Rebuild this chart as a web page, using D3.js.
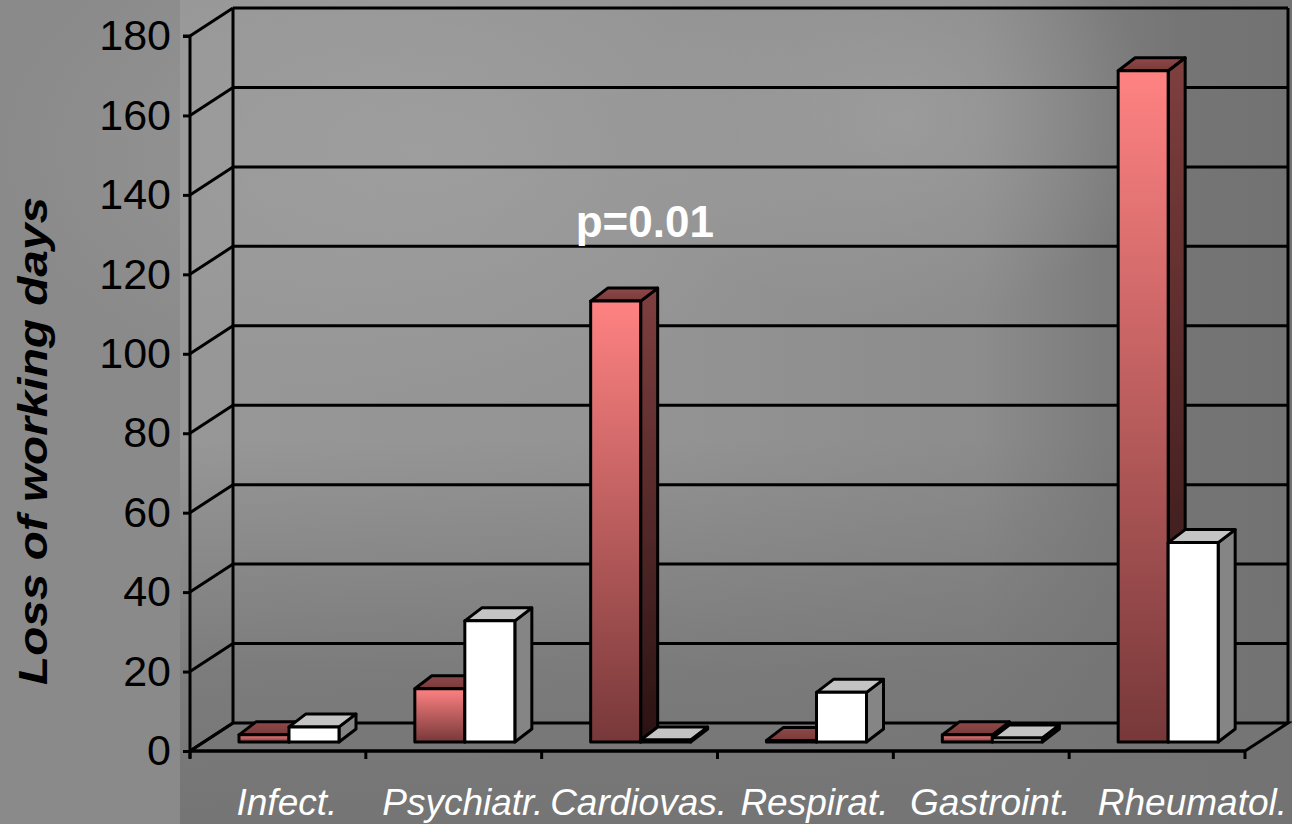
<!DOCTYPE html>
<html>
<head>
<meta charset="utf-8">
<script src="https://cdn.jsdelivr.net/npm/d3@7/dist/d3.min.js"></script>
<style>
  html, body { margin: 0; padding: 0; background: #898989; }
  svg { display: block; }
</style>
</head>
<body>
<svg id="chart" width="1292" height="824"></svg>
<script>
// ---- data ----
const categories = ["Infect.", "Psychiatr.", "Cardiovas.", "Respirat.", "Gastroint.", "Rheumatol."];
const seriesA = [1.8, 13.4, 111, 0.4, 1.8, 169];   // red bars
const seriesB = [3.8, 30.5, 0.5, 12.5, 1.0, 50.2]; // white bars
const yTicks = [0, 20, 40, 60, 80, 100, 120, 140, 160, 180];
const yTitle = "Loss of working days";
const annotation = "p=0.01";

// ---- layout ----
const W = 1292, H = 824;
const svg = d3.select("#chart");
const font = "'Liberation Sans', Arial, sans-serif";

const x = d3.scaleBand().domain(categories).range([190, 1245]).padding(0);
const y = d3.scaleLinear().domain([0, 180]).range([751, 36]);
const inner = d3.scaleBand().domain(["a", "b"]).range([35, 135]).padding(0);
const wall = { dx: 43, dy: -28 };     // depth of the floor / walls
const plane = { dx: 14, dy: -9 };     // offset of bar front faces
const bd = { dx: 17, dy: -13 };       // depth of each bar

// ---- background ----
const defs = svg.append("defs");
const bgGrad = defs.append("linearGradient").attr("id", "bg").attr("x1", 0).attr("y1", 0).attr("x2", 1).attr("y2", 0);
[[0, "#979797"], [0.45, "#939393"], [0.72, "#8c8c8c"], [0.83, "#7c7c7c"], [0.9, "#757575"], [1, "#727272"]]
  .forEach(([o, c]) => bgGrad.append("stop").attr("offset", o).attr("stop-color", c));
const hl = defs.append("radialGradient").attr("id", "hl").attr("cx", 0.5).attr("cy", 0.5).attr("r", 0.5);
hl.append("stop").attr("offset", 0).attr("stop-color", "#a4a4a4").attr("stop-opacity", 0.6);
hl.append("stop").attr("offset", 1).attr("stop-color", "#a4a4a4").attr("stop-opacity", 0);
const dk = defs.append("linearGradient").attr("id", "dk").attr("x1", 0).attr("y1", 0).attr("x2", 0).attr("y2", 1);
dk.append("stop").attr("offset", 0).attr("stop-color", "#737373").attr("stop-opacity", 0);
dk.append("stop").attr("offset", 0.6).attr("stop-color", "#737373").attr("stop-opacity", 0.75);
dk.append("stop").attr("offset", 1).attr("stop-color", "#737373").attr("stop-opacity", 0.95);

svg.append("rect").attr("width", W).attr("height", H).attr("fill", "#8a8a8a");
svg.append("rect").attr("x", 180).attr("y", 0).attr("width", W - 180).attr("height", H).attr("fill", "url(#bg)");
svg.append("ellipse").attr("cx", 420).attr("cy", 150).attr("rx", 420).attr("ry", 250).attr("fill", "url(#hl)");
svg.append("ellipse").attr("cx", 900).attr("cy", 120).attr("rx", 260).attr("ry", 200).attr("fill", "url(#hl)");
svg.append("rect").attr("x", 180).attr("y", 440).attr("width", W - 180).attr("height", H - 440).attr("fill", "url(#dk)");

// ---- walls and gridlines ----
const g = svg.append("g").attr("stroke", "#000").attr("stroke-width", 3).attr("fill", "none")
  .attr("stroke-linejoin", "miter");
const x0 = x.range()[0], x1 = x.range()[1];

// floor
g.append("path")
  .attr("d", `M${x0},${y(0)}L${x1},${y(0)}L${x1 + wall.dx},${y(0) + wall.dy}L${x0 + wall.dx},${y(0) + wall.dy}Z`)
  .attr("fill", "#777777").attr("fill-opacity", 0.35);

// back-wall horizontal gridlines
g.selectAll(".grid").data(yTicks.filter(d => d > 0)).join("line")
  .attr("x1", x0 + wall.dx).attr("x2", x1 + wall.dx)
  .attr("y1", d => y(d) + wall.dy).attr("y2", d => y(d) + wall.dy);
// side-wall diagonals
g.selectAll(".diag").data(yTicks).join("line")
  .attr("x1", x0).attr("y1", d => y(d))
  .attr("x2", x0 + wall.dx).attr("y2", d => y(d) + wall.dy);
// back wall verticals
[x0 + wall.dx, x1 + wall.dx].forEach(xx =>
  g.append("line").attr("x1", xx).attr("x2", xx).attr("y1", y(180) + wall.dy).attr("y2", y(0) + wall.dy));

// front y axis
const yAxis = d3.axisLeft(y).tickValues(yTicks).tickSize(7).tickPadding(12).tickFormat(d3.format("d"));
const ya = svg.append("g").attr("transform", `translate(${x0},0)`).call(yAxis);
ya.select(".domain").attr("stroke", "#000").attr("stroke-width", 3).attr("d", `M-7,${y(180)}H0V${y(0) + 7}`);
ya.selectAll(".tick line").attr("stroke", "#000").attr("stroke-width", 3);
ya.selectAll(".tick text").attr("fill", "#000").attr("font-family", font).attr("font-size", 43);

// front x axis
const xa = svg.append("g").attr("transform", `translate(0,${y(0)})`);
xa.append("line").attr("x1", x0).attr("x2", x1).attr("stroke", "#000").attr("stroke-width", 3);
const xTickPos = categories.map(c => x(c)).concat([x1]);
xa.selectAll(".xt").data(xTickPos).join("line")
  .attr("x1", d => d).attr("x2", d => d).attr("y1", 0).attr("y2", 8)
  .attr("stroke", "#000").attr("stroke-width", 3);

// ---- bars ----
function grad(id, top, bottom) {
  const gr = defs.append("linearGradient").attr("id", id).attr("x1", 0).attr("y1", 0).attr("x2", 0).attr("y2", 1);
  gr.append("stop").attr("offset", 0).attr("stop-color", top);
  gr.append("stop").attr("offset", 1).attr("stop-color", bottom);
}
grad("redFront", "#ff8282", "#773839");
grad("redSide", "#7f3f3f", "#2a1212");
grad("redTop", "#8f4949", "#7a3a3a");

const styles = {
  a: { front: "url(#redFront)", side: "url(#redSide)", top: "url(#redTop)" },
  b: { front: "#ffffff", side: "#858585", top: "#c4c4c4" }
};

const bars = [];
categories.forEach((c, i) => {
  bars.push({ cat: c, key: "a", v: seriesA[i] });
  bars.push({ cat: c, key: "b", v: seriesB[i] });
});

const bg = svg.append("g").attr("stroke", "#000").attr("stroke-width", 3).attr("stroke-linejoin", "round");
bars.forEach(b => {
  const bx = x(b.cat) + inner(b.key) + plane.dx;
  const w = inner.bandwidth();
  const yb = y(0) + plane.dy;
  const yt = y(b.v) + plane.dy;
  const s = styles[b.key];
  const grp = bg.append("g");
  grp.append("path")
    .attr("d", `M${bx + w},${yb}L${bx + w + bd.dx},${yb + bd.dy}L${bx + w + bd.dx},${yt + bd.dy}L${bx + w},${yt}Z`)
    .attr("fill", s.side);
  grp.append("path")
    .attr("d", `M${bx},${yt}L${bx + bd.dx},${yt + bd.dy}L${bx + w + bd.dx},${yt + bd.dy}L${bx + w},${yt}Z`)
    .attr("fill", s.top);
  grp.append("rect").attr("x", bx).attr("y", yt).attr("width", w).attr("height", Math.max(yb - yt, 0.5))
    .attr("fill", s.front);
});

// ---- category labels ----
const cl = svg.append("g").attr("font-family", font).attr("font-style", "italic")
  .attr("font-size", 37).attr("fill", "#ffffff");
cl.selectAll("text").data(categories).join("text")
  .attr("y", 815)
  .text(d => d)
  .each(function (d, i) {
    const last = i === categories.length - 1;
    d3.select(this)
      .attr("text-anchor", last ? "end" : "middle")
      .attr("x", last ? W - 5 : x(d) + x.bandwidth() / 2 + 9);
  });

// ---- y title ----
svg.append("text")
  .attr("transform", `translate(47,${(685 + 197) / 2}) rotate(-90)`)
  .attr("text-anchor", "middle")
  .attr("font-family", font).attr("font-weight", "bold").attr("font-style", "italic")
  .attr("font-size", 40).attr("fill", "#000")
  .attr("textLength", 488).attr("lengthAdjust", "spacingAndGlyphs")
  .text(yTitle);

// ---- annotation ----
svg.append("text")
  .attr("x", x("Cardiovas.") + 34).attr("y", y(129.5))
  .attr("font-family", font).attr("font-weight", "bold").attr("font-size", 44).attr("fill", "#ffffff")
  .text(annotation);
</script>
</body>
</html>
